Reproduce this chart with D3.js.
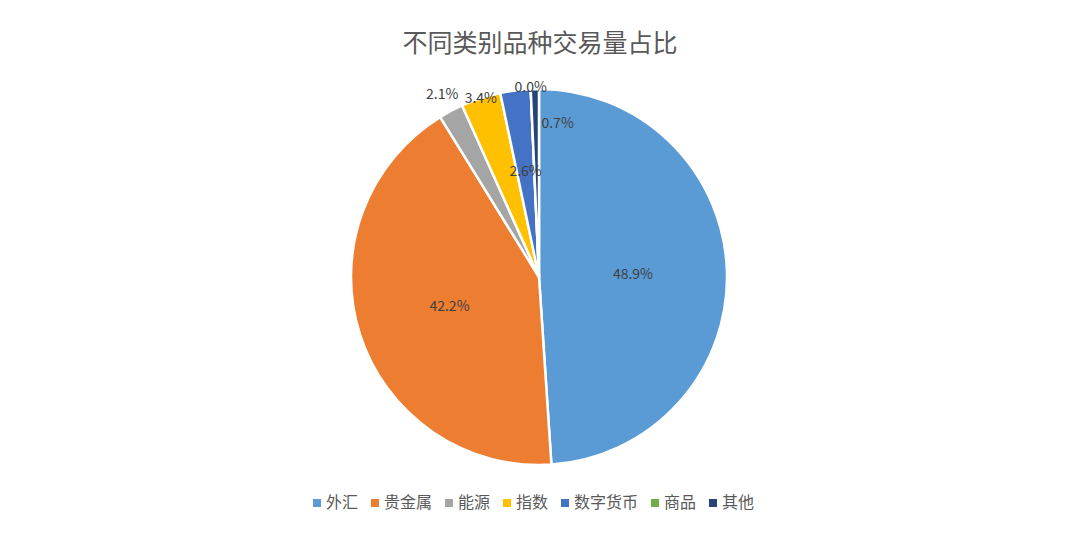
<!DOCTYPE html>
<html><head><meta charset="utf-8">
<script src="https://cdn.jsdelivr.net/npm/d3@7"></script>
<style>body{margin:0;background:#fff;font-family:"Noto Sans CJK SC","Noto Sans",sans-serif}</style>
</head><body><svg id="c" width="1080" height="540"></svg>
<script>
const categories=["外汇","贵金属","能源","指数","数字货币","商品","其他"];
const values=[48.9,42.2,2.1,3.4,2.6,0.0,0.7];
const colors=["#5B9BD5","#ED7D31","#A5A5A5","#FFC000","#4472C4","#70AD47","#264478"];
const labelRadius=[0.5,0.5,1.1,1.0,0.57,1.01,0.82];
const labelShift=[[0,0],[0,0],[0,0],[0,0],[0,0],[0,0],[22,0]];

const svg=d3.select("#c");
svg.append("text").attr("x",540).attr("y",52).attr("text-anchor","middle")
 .attr("font-size",25).attr("fill","#595959").text("不同类别品种交易量占比");
const cx=539,cy=277,R=188;
const g=svg.append("g").attr("transform",`translate(${cx},${cy})`);
const pie=d3.pie().sort(null).value(d=>d)(values);
const arc=d3.arc().innerRadius(0).outerRadius(R);
g.selectAll("path").data(pie).join("path").attr("d",arc)
 .attr("fill",(d,i)=>colors[i]).attr("stroke","#fff").attr("stroke-width",2.5);
g.selectAll("text.l").data(pie).join("text").attr("class","l")
 .attr("transform",(d,i)=>{const a=(d.startAngle+d.endAngle)/2,r=R*labelRadius[i];
   return `translate(${Math.sin(a)*r+labelShift[i][0]},${-Math.cos(a)*r+labelShift[i][1]})`;})
 .attr("text-anchor","middle").attr("dy","0.35em").attr("font-size",14).attr("fill","#404040")
 .text(d=>d.data.toFixed(1)+"%");
// legend
const lg=svg.append("g");
const widths=categories.map(c=>c.length*16+26);
const total=d3.sum(widths);
let x=540-total/2;
categories.forEach((c,i)=>{
 lg.append("rect").attr("x",x).attr("y",499).attr("width",8).attr("height",8).attr("fill",colors[i]);
 lg.append("text").attr("x",x+13).attr("y",508).attr("font-size",16).attr("fill","#595959").text(c);
 x+=widths[i];
});
</script></body></html>
